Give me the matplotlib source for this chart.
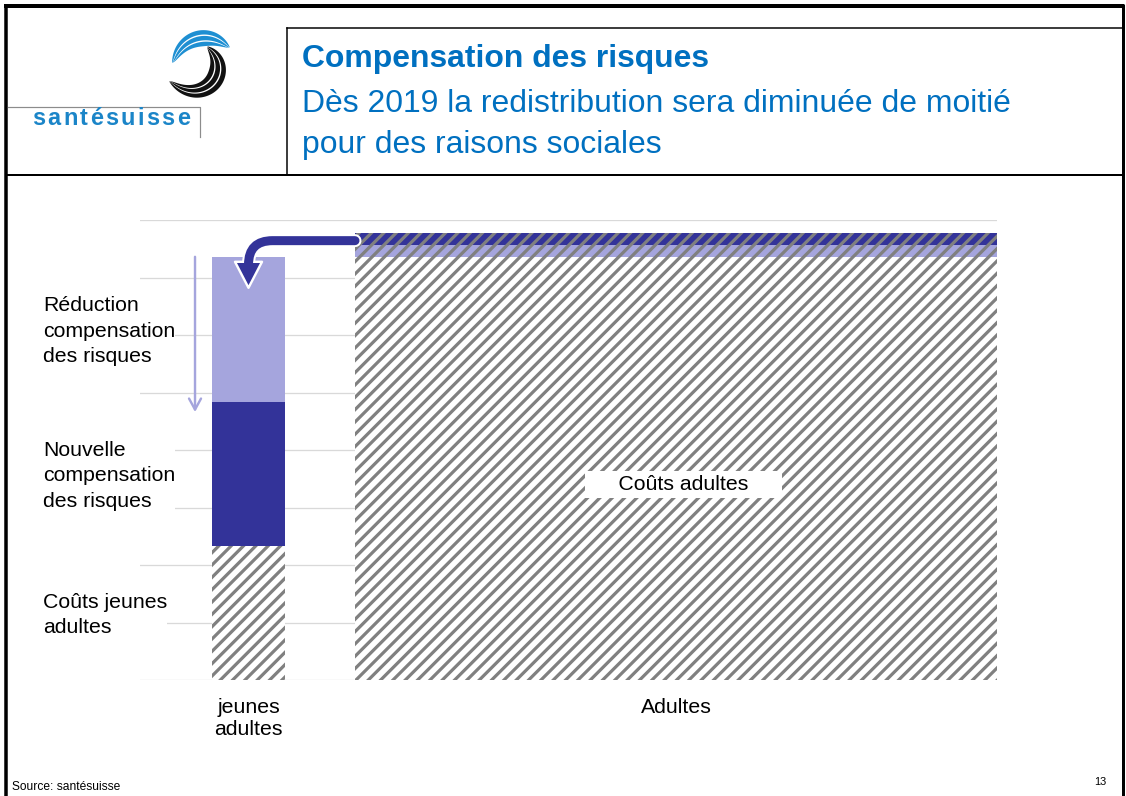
import numpy as np
import matplotlib.pyplot as plt
from matplotlib import transforms
from matplotlib.patches import FancyArrowPatch

DPI = 148
W, H = 1126, 796


def pt(px):
    # pixel size -> points at the output dpi
    return px * 72 / DPI


# ---- data ----
categories = ['jeunes\nadultes', 'Adultes']
couts = [2.33, 7.36]            # hatched cost part
nouvelle_comp = [2.5, 0.21]     # new risk compensation (dark)
reduction_comp = [2.53, 0.21]   # removed part of the compensation (light)
seg_labels = ['Coûts jeunes\nadultes',
              'Nouvelle\ncompensation\ndes risques',
              'Réduction\ncompensation\ndes risques']
bar_label = 'Coûts adultes'
title_bold = 'Compensation des risques'
title_lines = ['Dès 2019 la redistribution sera diminuée de moitié',
               'pour des raisons sociales']

# layout of the two bars (x in axis units 0..100)
bar_left = np.array([8.4, 25.09])
bar_width = np.array([8.52, 74.91])
centers = bar_left + bar_width / 2

LIGHT = '#A5A5DD'
DARK = '#333399'
GRAY = '#808080'
BLUE = '#0070C0'
LOGO_BLUE = '#1B85C8'

plt.rcParams['font.family'] = ['Liberation Sans', 'DejaVu Sans']
plt.rcParams['hatch.color'] = GRAY
plt.rcParams['hatch.linewidth'] = pt(3.2)

fig = plt.figure(figsize=(W / DPI, H / DPI), dpi=DPI)
fig.patch.set_facecolor('white')

# page frame / header, drawn in pixel coordinates
bg = fig.add_axes([0, 0, 1, 1], zorder=0)
bg.set_xlim(0, W)
bg.set_ylim(H, 0)
bg.axis('off')

bg.plot([6, 6], [5, H], color='black', lw=pt(3.5), solid_capstyle='butt')
bg.plot([4, 1124], [6, 6], color='black', lw=pt(4), solid_capstyle='butt')
bg.plot([1123, 1123], [4, H], color='black', lw=pt(3), solid_capstyle='butt')
bg.plot([6, 1123], [175, 175], color='black', lw=pt(2))
bg.plot([287, 287], [28, 175], color='black', lw=pt(1.5))
bg.plot([287, 1123], [28, 28], color='black', lw=pt(1.5))

# logo lines
bg.plot([8, 200, 200], [107, 107, 137], color='#8C8C8C', lw=pt(1.2))


def stripes(cx, cy, t0, t1, r0, r1, color, n=3, th=4.5, gap=1.4):
    t = np.radians(np.linspace(t0, t1, 150))
    u = np.linspace(0, 1, 150)
    s = np.sin(np.pi * u) ** 0.6
    r = r0 + (r1 - r0) * u
    for k in range(n):
        ro = r - k * (th + gap) * s
        ri = ro - th * s
        xs = np.concatenate([cx + ro * np.cos(t), (cx + ri * np.cos(t))[::-1]])
        ys = np.concatenate([cy - ro * np.sin(t), (cy - ri * np.sin(t))[::-1]])
        bg.fill(xs, ys, color=color, lw=0)


stripes(206, 60, 28, 185, 27, 34, '#1E8FD2')
stripes(200, 67, 70, -155, 22, 34, '#111111', th=5.0)

# "santésuisse" with wide tracking
r = fig.canvas.get_renderer()
chars = []
for ch in 'santésuisse':
    chars.append(bg.text(0, 125, ch, fontsize=pt(23.5), fontweight='bold',
                         color=LOGO_BLUE, va='baseline', ha='left'))
widths = [c.get_window_extent(r).width for c in chars]
track = (158 - sum(widths)) / (len(chars) - 1)
x = 32
for c, w in zip(chars, widths):
    c.set_x(x)
    x += w + track

# titles
bg.text(302, 67, title_bold, fontsize=pt(31.9), fontweight='bold',
        color=BLUE, va='baseline')
bg.text(302, 112, title_lines[0], fontsize=pt(31.9), color=BLUE, va='baseline')
bg.text(302, 153, title_lines[1], fontsize=pt(31.9), color=BLUE, va='baseline')

bg.text(12, 790, 'Source: santésuisse', fontsize=pt(12), va='baseline')
bg.text(1106, 785, '13', fontsize=pt(11), va='baseline', ha='right')

# ---- chart ----
ax = fig.add_axes([140 / W, 1 - 680 / H, 857 / W, 460 / H], zorder=1)
ax.set_xlim(0, 100)
ax.set_ylim(0, 8)
ax.set_yticks(range(9))
ax.yaxis.grid(True, color='#D9D9D9', lw=pt(1.3))
ax.set_axisbelow(True)
for s in ax.spines.values():
    s.set_visible(False)
ax.tick_params(left=False, labelleft=False, bottom=False, pad=pt(11))
ax.set_xticks(centers, categories, fontsize=pt(21.2))

# jeunes adultes: costs, new compensation, reduction
ax.bar(centers[0], couts[0], width=bar_width[0], color='white', hatch='////', lw=0)
ax.bar(centers[0], nouvelle_comp[0], bottom=couts[0], width=bar_width[0],
       color=DARK, lw=0)
ax.bar(centers[0], reduction_comp[0], bottom=couts[0] + nouvelle_comp[0],
       width=bar_width[0], color=LIGHT, lw=0)

# adultes: costs, removed compensation, remaining compensation
ax.bar(centers[1], couts[1], width=bar_width[1], color='white', hatch='////', lw=0)
ax.bar(centers[1], reduction_comp[1], bottom=couts[1], width=bar_width[1],
       color=LIGHT, hatch='////', lw=0)
ax.bar(centers[1], nouvelle_comp[1], bottom=couts[1] + reduction_comp[1],
       width=bar_width[1], color=DARK, hatch='////', lw=0)

# segment labels on the left
trans = transforms.blended_transform_factory(ax.transAxes, ax.transData)
bottoms = [0, couts[0], couts[0] + nouvelle_comp[0]]
heights = [couts[0], nouvelle_comp[0], reduction_comp[0]]
for lab, b, h in zip(seg_labels, bottoms, heights):
    ax.text(-0.1132, b + h / 2 - 0.03, lab, transform=trans, fontsize=pt(21.2),
            va='center', ha='left', linespacing=1.42, zorder=3,
            bbox=dict(facecolor='white', edgecolor='none', pad=0))

jeunes_top = couts[0] + nouvelle_comp[0] + reduction_comp[0]
adult_top = couts[1] + reduction_comp[1] + nouvelle_comp[1]

# px -> data (y)
px_per_unit = ax.transData.transform((0, 1))[1] - ax.transData.transform((0, 0))[1]


def dy(px):
    return px / px_per_unit


# thin reduction arrow
ax.add_patch(FancyArrowPatch((0.0642, jeunes_top), (0.0642, couts[0] + nouvelle_comp[0] - 0.17),
                             transform=trans, arrowstyle='->,head_length=11,head_width=6',
                             mutation_scale=pt(1), color=LIGHT, lw=pt(2.4),
                             shrinkA=0, shrinkB=0, clip_on=False, zorder=3))

# curved redistribution arrow from adults to young adults
tip_y = jeunes_top - dy(31)
base_y = tip_y + dy(26)
start = (bar_left[1], adult_top - dy(8))
conn = 'angle,angleA=0,angleB=90,rad=24'
shaft_w = FancyArrowPatch(start, (centers[0], base_y - dy(3)), arrowstyle='-',
                          connectionstyle=conn, lw=pt(13), color='white',
                          shrinkA=0, shrinkB=0, clip_on=False, zorder=4)
head = FancyArrowPatch((centers[0], base_y + dy(6)), (centers[0], tip_y),
                       arrowstyle='simple,head_length=26,head_width=27,tail_width=1',
                       mutation_scale=pt(1), facecolor=DARK, edgecolor='white',
                       lw=pt(2.4), shrinkA=0, shrinkB=0, clip_on=False, zorder=5)
shaft = FancyArrowPatch(start, (centers[0], base_y - dy(3)), arrowstyle='-',
                        connectionstyle=conn, lw=pt(9), color=DARK,
                        shrinkA=0, shrinkB=0, clip_on=False, zorder=6)
for p in (shaft_w, head, shaft):
    ax.add_patch(p)

ax.text(63.4, 3.4, '     ' + bar_label + '     ', fontsize=pt(21.2),
        ha='center', va='center', zorder=3,
        bbox=dict(boxstyle='square,pad=0.2', facecolor='white', edgecolor='none'))

fig.savefig('out.png', dpi=DPI)
